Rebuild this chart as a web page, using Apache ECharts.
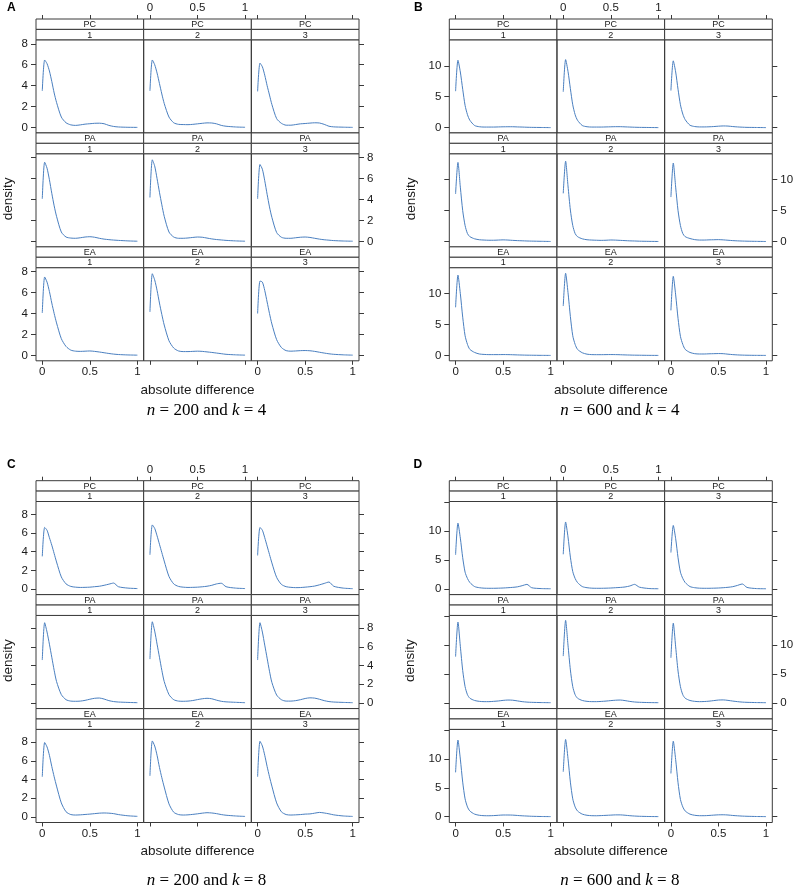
<!DOCTYPE html>
<html><head><meta charset="utf-8">
<script src="https://cdn.jsdelivr.net/npm/echarts@6/dist/echarts.min.js"></script>
<style>html,body{margin:0;padding:0;background:#fff}#c{width:794px;height:889px}</style>
</head><body><div id="c"></div>
<script>
// ---------- data ----------
const xs = [0,0.025,0.05,0.075,0.1,0.125,0.15,0.2,0.25,0.3,0.35,0.4,0.45,0.5,0.55,0.6,0.65,0.7,0.75,0.8,0.9,1];
const methods = ['PC','PA','EA'];
const reps = ['1','2','3'];
const xTicks = [0,0.5,1];
const yTicksA = [0,2,4,6,8];
const yTicksB = [0,5,10];
const yTicksC = [0,2,4,6,8];
const yTicksD = [0,5,10,15];
const yLabelsD = [0,5,10];
const captionN = ['200','600','200','600'];
const captionK = ['4','4','8','8'];
const panelLetters = ['A','B','C','D'];

// Panel A: n = 200, k = 4
const A_PC_1 = [3.5,6.45,6.1,5.4,4.4,3.3,2.4,1.0,0.45,0.25,0.2,0.25,0.32,0.36,0.4,0.41,0.36,0.2,0.1,0.05,0.02,0.01];
const A_PC_2 = [3.5,6.45,6.0,5.2,4.2,3.2,2.3,1.0,0.45,0.3,0.28,0.27,0.3,0.35,0.4,0.44,0.43,0.35,0.2,0.12,0.05,0.02];
const A_PC_3 = [3.45,6.15,5.8,5.0,4.0,3.1,2.2,0.85,0.4,0.22,0.22,0.28,0.35,0.38,0.42,0.45,0.43,0.3,0.12,0.06,0.03,0.01];
const A_PA_1 = [4.07,7.57,7.0,5.9,4.6,3.4,2.4,0.9,0.42,0.32,0.3,0.35,0.42,0.45,0.4,0.3,0.22,0.17,0.13,0.1,0.05,0.02];
const A_PA_2 = [4.2,7.8,7.2,6.0,4.7,3.5,2.4,0.9,0.42,0.3,0.3,0.33,0.38,0.42,0.4,0.32,0.24,0.18,0.14,0.1,0.05,0.02];
const A_PA_3 = [4.07,7.35,6.9,5.8,4.5,3.3,2.3,0.85,0.4,0.3,0.3,0.35,0.4,0.42,0.38,0.3,0.22,0.16,0.12,0.08,0.04,0.02];
const A_EA_1 = [4.05,7.49,7.0,6.1,5.0,4.0,3.1,1.6,0.85,0.5,0.4,0.38,0.4,0.42,0.38,0.32,0.25,0.18,0.12,0.08,0.04,0.02];
const A_EA_2 = [4.15,7.8,7.2,6.2,5.0,3.9,2.9,1.4,0.7,0.42,0.36,0.36,0.38,0.4,0.38,0.33,0.28,0.22,0.16,0.1,0.05,0.02];
const A_EA_3 = [4.0,7.1,7.0,6.2,5.1,4.0,3.0,1.5,0.75,0.45,0.4,0.42,0.45,0.46,0.44,0.38,0.3,0.22,0.15,0.1,0.05,0.02];

// Panel B: n = 600, k = 4
const B_PC_1 = [5.9,10.9,9.0,6.2,3.6,2.1,1.2,0.35,0.15,0.1,0.1,0.1,0.12,0.14,0.15,0.15,0.12,0.1,0.07,0.05,0.03,0.01];
const B_PC_2 = [5.8,11.0,9.1,6.3,3.7,2.1,1.2,0.35,0.15,0.1,0.1,0.1,0.12,0.14,0.16,0.16,0.13,0.1,0.07,0.05,0.03,0.01];
const B_PC_3 = [6.0,10.8,9.0,6.2,3.7,2.2,1.3,0.4,0.18,0.12,0.12,0.14,0.18,0.24,0.28,0.26,0.18,0.12,0.08,0.05,0.03,0.01];
const B_PA_1 = [7.7,12.8,8.8,5.0,2.6,1.3,0.8,0.45,0.3,0.25,0.22,0.22,0.25,0.28,0.25,0.2,0.16,0.13,0.1,0.08,0.05,0.02];
const B_PA_2 = [7.8,13.0,9.0,5.1,2.6,1.3,0.8,0.45,0.3,0.25,0.22,0.2,0.22,0.26,0.24,0.2,0.16,0.12,0.1,0.07,0.04,0.02];
const B_PA_3 = [7.2,12.7,8.8,5.0,2.6,1.3,0.8,0.5,0.32,0.25,0.25,0.28,0.3,0.32,0.28,0.22,0.16,0.12,0.09,0.07,0.04,0.02];
const B_EA_1 = [7.8,13.0,10.0,6.2,3.2,1.8,1.0,0.5,0.25,0.18,0.15,0.15,0.15,0.16,0.15,0.13,0.1,0.08,0.06,0.05,0.03,0.02];
const B_EA_2 = [8.0,13.3,10.2,6.3,3.2,1.8,1.0,0.45,0.22,0.15,0.14,0.14,0.15,0.16,0.15,0.13,0.1,0.08,0.06,0.05,0.03,0.02];
const B_EA_3 = [7.3,12.8,9.8,6.0,3.1,1.8,1.0,0.5,0.3,0.25,0.25,0.28,0.3,0.32,0.3,0.22,0.15,0.1,0.07,0.05,0.03,0.02];

// Panel C: n = 200, k = 8
const C_PC_1 = [3.5,6.6,6.3,5.5,4.7,3.8,2.9,1.3,0.55,0.28,0.2,0.17,0.18,0.2,0.25,0.3,0.4,0.52,0.64,0.25,0.1,0.05];
const C_PC_2 = [3.67,6.87,6.5,5.7,4.8,3.9,3.0,1.35,0.55,0.28,0.2,0.17,0.18,0.2,0.24,0.3,0.4,0.55,0.62,0.25,0.1,0.05];
const C_PC_3 = [3.6,6.6,6.3,5.5,4.6,3.7,2.8,1.25,0.5,0.25,0.18,0.15,0.16,0.2,0.25,0.32,0.45,0.6,0.75,0.3,0.1,0.04];
const C_PA_1 = [4.6,8.6,7.6,6.3,4.9,3.5,2.3,0.9,0.35,0.2,0.18,0.2,0.28,0.4,0.5,0.53,0.42,0.25,0.15,0.1,0.06,0.03];
const C_PA_2 = [4.7,8.7,7.7,6.3,4.9,3.5,2.3,0.9,0.35,0.2,0.18,0.2,0.26,0.36,0.45,0.5,0.45,0.3,0.18,0.12,0.07,0.03];
const C_PA_3 = [4.6,8.6,7.6,6.2,4.8,3.4,2.2,0.85,0.35,0.2,0.2,0.25,0.35,0.48,0.55,0.52,0.4,0.25,0.15,0.1,0.06,0.03];
const C_EA_1 = [4.3,7.97,7.5,6.6,5.4,4.3,3.3,1.5,0.55,0.25,0.2,0.22,0.26,0.3,0.35,0.4,0.42,0.4,0.35,0.25,0.12,0.06];
const C_EA_2 = [4.4,8.14,7.6,6.6,5.3,4.2,3.2,1.4,0.5,0.25,0.2,0.22,0.27,0.33,0.4,0.45,0.42,0.35,0.25,0.18,0.1,0.05];
const C_EA_3 = [4.3,8.1,7.6,6.6,5.4,4.3,3.3,1.5,0.55,0.25,0.2,0.22,0.25,0.3,0.32,0.4,0.48,0.42,0.33,0.22,0.1,0.05];

// Panel D: n = 600, k = 8
const D_PC_1 = [5.9,11.4,8.8,5.4,2.9,1.8,1.1,0.4,0.2,0.12,0.1,0.1,0.12,0.15,0.2,0.26,0.35,0.55,0.78,0.2,0.05,0.02];
const D_PC_2 = [6.0,11.6,9.0,5.5,3.0,1.8,1.1,0.4,0.2,0.12,0.1,0.1,0.12,0.15,0.2,0.25,0.33,0.5,0.78,0.3,0.06,0.02];
const D_PC_3 = [6.3,11.0,8.7,5.4,2.9,1.8,1.1,0.4,0.2,0.12,0.1,0.1,0.12,0.15,0.2,0.27,0.38,0.6,0.85,0.25,0.05,0.02];
const D_PA_1 = [8.0,14.0,9.8,5.6,2.8,1.4,0.8,0.4,0.25,0.2,0.2,0.25,0.32,0.42,0.48,0.45,0.33,0.2,0.12,0.08,0.04,0.02];
const D_PA_2 = [8.1,14.3,10.0,5.7,2.8,1.4,0.8,0.4,0.25,0.2,0.2,0.24,0.3,0.38,0.45,0.48,0.38,0.24,0.14,0.09,0.04,0.02];
const D_PA_3 = [7.8,13.8,9.7,5.5,2.8,1.4,0.8,0.4,0.25,0.2,0.22,0.28,0.38,0.48,0.5,0.42,0.3,0.2,0.12,0.08,0.04,0.02];
const D_EA_1 = [7.7,13.3,10.0,6.0,3.1,1.7,1.0,0.45,0.25,0.18,0.17,0.2,0.25,0.3,0.3,0.28,0.22,0.16,0.12,0.08,0.04,0.02];
const D_EA_2 = [7.8,13.4,10.1,6.0,3.1,1.7,1.0,0.45,0.25,0.18,0.17,0.2,0.24,0.28,0.32,0.32,0.26,0.18,0.12,0.08,0.04,0.02];
const D_EA_3 = [7.5,13.1,9.9,5.9,3.0,1.7,1.0,0.45,0.25,0.18,0.18,0.22,0.28,0.33,0.34,0.3,0.22,0.16,0.11,0.08,0.04,0.02];

// ---------- layout / style ----------
const SANS = "'Liberation Sans', Arial, Helvetica, sans-serif";
const SERIF = "'Liberation Serif', 'Times New Roman', serif";
const LINE = '#3a3a3a';
const CURVE = '#4a7fc0';
const TXT = '#1a1a1a';

const panels = [
  {left:36,    top:19,    ymin:-0.52, ymax:8.38,  yTicks:yTicksA, yLabels:yTicksA,
   curves:[[A_PC_1,A_PC_2,A_PC_3],[A_PA_1,A_PA_2,A_PA_3],[A_EA_1,A_EA_2,A_EA_3]],
   letterX:7, letterY:7.5, densX:8, capY:411},
  {left:449.3, top:19,    ymin:-0.85, ymax:14.2,  yTicks:yTicksB, yLabels:yTicksB,
   curves:[[B_PC_1,B_PC_2,B_PC_3],[B_PA_1,B_PA_2,B_PA_3],[B_EA_1,B_EA_2,B_EA_3]],
   letterX:414, letterY:7.5, densX:411, capY:411},
  {left:36,    top:480.7, ymin:-0.6,  ymax:9.38,  yTicks:yTicksC, yLabels:yTicksC,
   curves:[[C_PC_1,C_PC_2,C_PC_3],[C_PA_1,C_PA_2,C_PA_3],[C_EA_1,C_EA_2,C_EA_3]],
   letterX:7, letterY:465, densX:8.5, capY:881},
  {left:449.3, top:480.7, ymin:-1.0,  ymax:15.15, yTicks:yTicksD, yLabels:yLabelsD,
   curves:[[D_PC_1,D_PC_2,D_PC_3],[D_PA_1,D_PA_2,D_PA_3],[D_EA_1,D_EA_2,D_EA_3]],
   letterX:413.5, letterY:465, densX:410, capY:881}
];
const PW = 323, PH = 341.8;
const colW = PW/3, rowH = PH/3, stripH = 10.4, plotH = rowH - 2*stripH;

const grids=[], xAxes=[], yAxes=[], series=[], graphics=[];

panels.forEach((p, pi) => {
  for (let r = 0; r < 3; r++) {
    for (let c = 0; c < 3; c++) {
      const gl = p.left + c*colW;
      const rowTop = p.top + r*rowH;
      const gt = rowTop + 2*stripH;
      const idx = grids.length;
      grids.push({left:gl, top:gt, width:colW, height:plotH, show:true,
        borderColor:LINE, borderWidth:1, backgroundColor:'transparent', containLabel:false,
        outerBoundsMode:'none'});
      const showXLab = r === 0 ? c === 1 : c !== 1;
      xAxes.push({gridIndex:idx, type:'value', min:-0.066, max:1.066,
        show: r !== 1, position: r === 0 ? 'top' : 'bottom', offset: r === 0 ? 2*stripH : 0,
        axisLine:{show:false, onZero:false}, splitLine:{show:false},
        axisTick:{show:true, inside:false, length:4, lineStyle:{color:LINE, width:1}, customValues:xTicks},
        axisLabel:{show:showXLab, customValues:xTicks, margin:5, fontSize:11.5, color:TXT, fontFamily:SANS}});
      const showYLab = c === 0 ? r !== 1 : r === 1;
      yAxes.push({gridIndex:idx, type:'value', min:p.ymin, max:p.ymax,
        show: c !== 1, position: c === 0 ? 'left' : 'right',
        axisLine:{show:false, onZero:false}, splitLine:{show:false},
        axisTick:{show:true, inside:false, length:5, lineStyle:{color:LINE, width:1}, customValues:p.yTicks},
        axisLabel:{show:showYLab, customValues:p.yLabels, margin:8, fontSize:11.5, color:TXT, fontFamily:SANS}});
      const ys = p.curves[r][c];
      series.push({type:'line', xAxisIndex:idx, yAxisIndex:idx,
        data: xs.map((x,i)=>[x, ys[i]]), showSymbol:false, symbol:'none',
        smooth:0.25, lineStyle:{color:CURVE, width:1}, silent:true, animation:false});
      // strips
      const labels = [methods[r], reps[c]];
      for (let s = 0; s < 2; s++) {
        const sy = rowTop + s*stripH;
        graphics.push({type:'rect', silent:true, z:10,
          shape:{x:gl, y:sy, width:colW, height:stripH},
          style:{fill:'#fff', stroke:LINE, lineWidth:1}});
        graphics.push({type:'text', silent:true, z:11,
          style:{text:labels[s], x:gl+colW/2, y:sy+stripH/2+0.5, align:'center', verticalAlign:'middle',
                 font:'9px ' + SANS, fill:TXT}});
      }
    }
  }
  // axis titles, letters, captions
  graphics.push({type:'text', silent:true,
    style:{text:'absolute difference', x:p.left+PW/2, y:p.top+PH+29, align:'center', verticalAlign:'middle',
           font:'13.5px ' + SANS, fill:TXT}});
  graphics.push({type:'text', silent:true, x:p.densX, y:p.top+PH/2+9, rotation:Math.PI/2,
    style:{text:'density', x:0, y:0, align:'center', verticalAlign:'middle',
           font:'13.5px ' + SANS, fill:TXT}});
  graphics.push({type:'text', silent:true,
    style:{text:panelLetters[pi], x:p.letterX, y:p.letterY, align:'left', verticalAlign:'middle',
           font:'bold 12px ' + SANS, fill:'#000'}});
  graphics.push({type:'text', silent:true,
    style:{text:'{i|n} = ' + captionN[pi] + ' and {i|k} = ' + captionK[pi],
           x:p.left+PW/2+9, y:p.capY, align:'center', verticalAlign:'middle',
           font:'17px ' + SERIF, fill:'#000',
           rich:{i:{fontStyle:'italic', fontFamily:SERIF, fontSize:17, fill:'#000', color:'#000'}}}});
});

const chart = echarts.init(document.getElementById('c'), null, {renderer:'canvas', width:794, height:889});
chart.setOption({
  animation:false,
  backgroundColor:'#fff',
  grid:grids, xAxis:xAxes, yAxis:yAxes, series:series,
  graphic:{elements:graphics}
});
</script></body></html>
